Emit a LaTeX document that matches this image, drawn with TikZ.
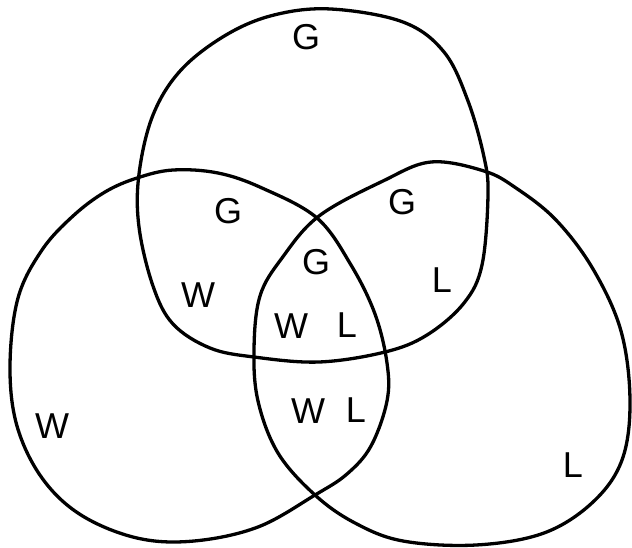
\documentclass[tikz,border=0pt]{standalone}
\usepackage{fontspec}
\setmainfont{Liberation Sans}
\begin{document}
\begin{tikzpicture}[x=1pt,y=-1pt,
  ring/.style={line width=3.3pt,line join=round},
  lbl/.style={font=\fontsize{36}{36}\selectfont,inner sep=0pt}]
\useasboundingbox (0,0) rectangle (632,547);
% top set G
\draw[ring] plot[smooth cycle,tension=0.6] coordinates {
 (331,9) (403,22) (444,52) (468,101) (484,157) (488,195) (482,265) (464,303)
 (427,335) (385,352) (319,362) (254,357) (210,348) (173,324) (153,286)
 (139,227) (139,174) (153,115) (181,70) (226,35) (274,15)};
% left set W
\draw[ring] plot[smooth cycle,tension=0.6] coordinates {
 (137,178) (173,170) (218,173) (262,188) (317,218) (351,265) (375,314)
 (387,363) (387,401) (371,446) (347,474) (315,495) (258,527) (194,541)
 (137,538) (81,515) (42,478) (17,426) (10,366) (18,298) (42,250) (73,216) (105,192)};
% right set L
\draw[ring] plot[smooth cycle,tension=0.6] coordinates {
 (431,162) (383,181) (319,216) (282,258) (260,296) (254,349) (258,401)
 (278,453) (315,495) (355,523) (403,541) (476,545) (544,533) (593,502)
 (622,460) (630,401) (621,331) (593,269) (556,220) (516,188) (484,171)};
% labels
\node[lbl] (g1) at (306,37) {G};
\node[lbl] (g2) at (228,211) {G};
\node[lbl] (g3) at (402,202) {G};
\node[lbl] (g4) at (316,262) {G};
\node[lbl] (w1) at (198,295) {W};
\node[lbl] (l1) at (442,280) {L};
\node[lbl] (w2) at (291,326) {W};
\node[lbl] (l2) at (347,325) {L};
\node[lbl] (w3) at (308,411) {W};
\node[lbl] (l3) at (356,410) {L};
\node[lbl] (w4) at (52,426) {W};
\node[lbl] (l4) at (573,465) {L};
\end{tikzpicture}
\end{document}
